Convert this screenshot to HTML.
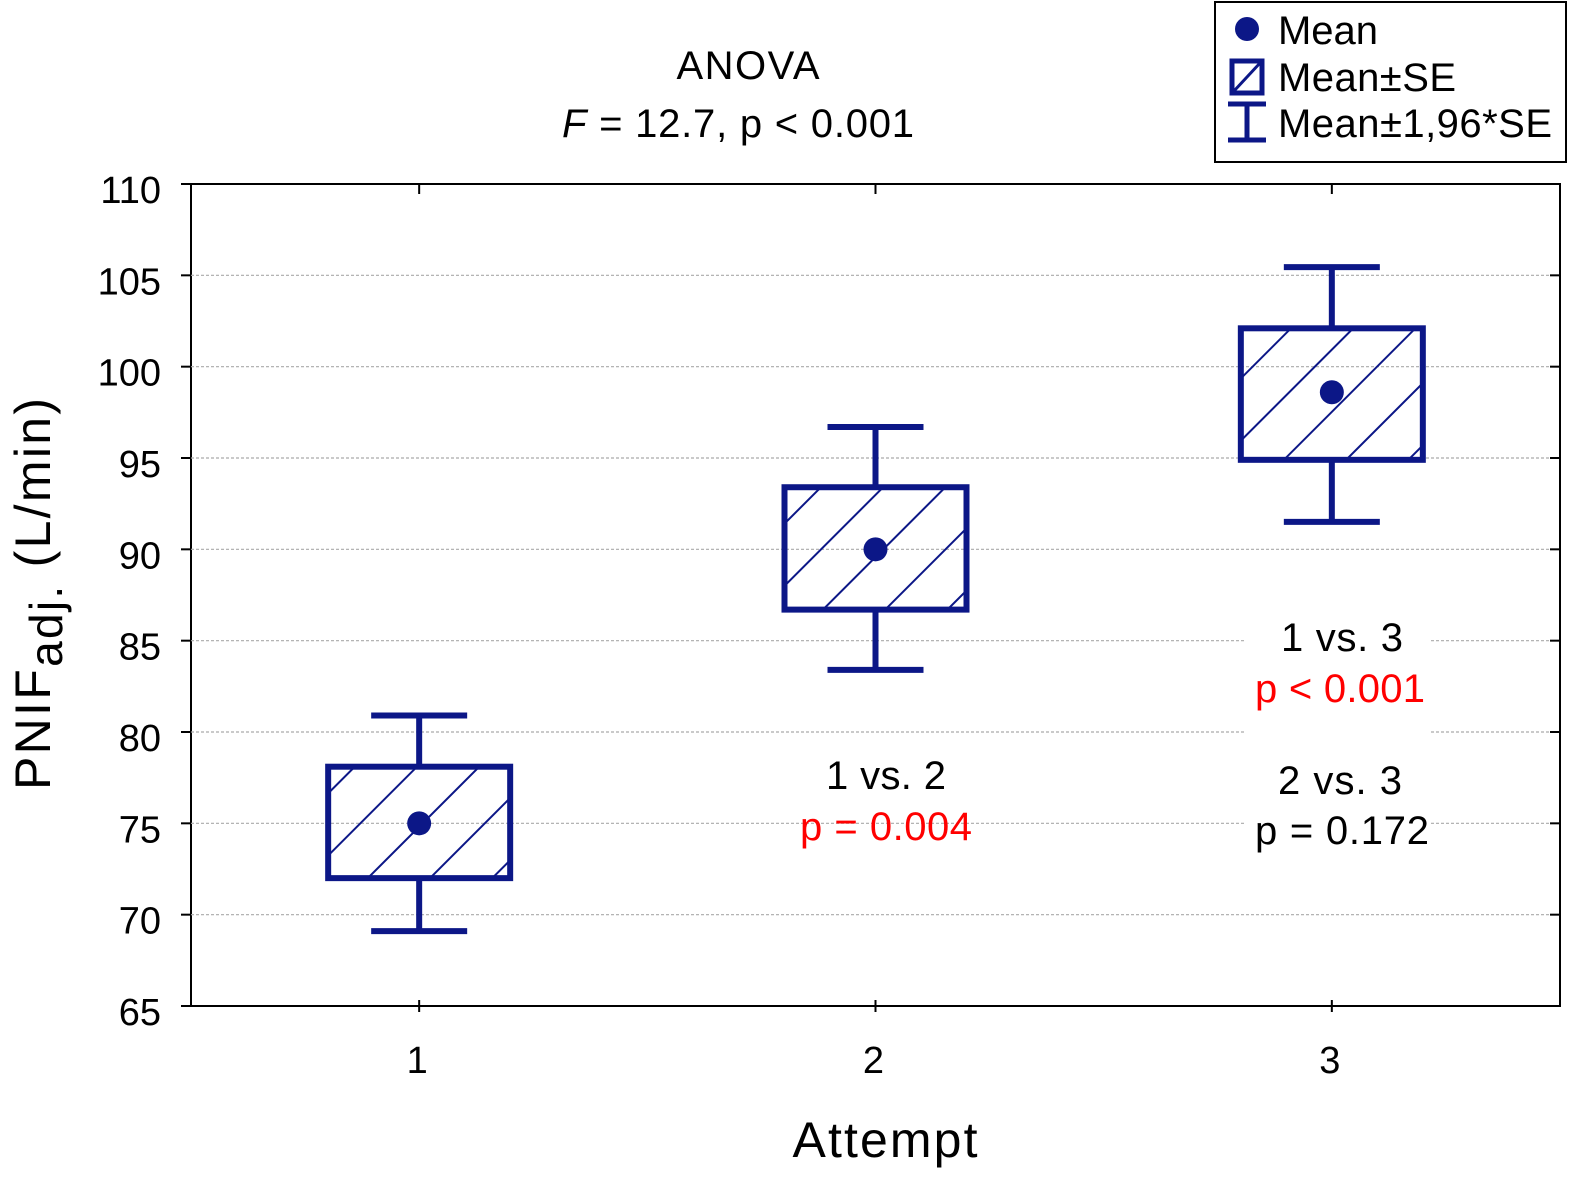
<!DOCTYPE html>
<html><head><meta charset="utf-8"><style>
html,body{margin:0;padding:0;background:#fff;}
svg{display:block;font-family:"Liberation Sans",Arial,sans-serif;}
</style></head><body>
<svg id="chart" width="1570" height="1184" viewBox="0 0 1570 1184">
<defs>
<pattern id="hatch" patternUnits="userSpaceOnUse" width="44" height="44" patternTransform="rotate(45)">
<line x1="0" y1="0" x2="0" y2="44" stroke="#0c1787" stroke-width="4"/>
</pattern>
</defs>
<rect x="191" y="184" width="1369" height="822" fill="#fff" stroke="#000" stroke-width="2"/>
<g id="grid"></g>
<g id="axes"></g>
<g id="marks"></g>
<text x="748" y="79" font-size="40" text-anchor="middle" textLength="143">ANOVA</text>
<text x="738" y="137" font-size="40" text-anchor="middle" textLength="352"><tspan font-style="italic">F</tspan> = 12.7, p &lt; 0.001</text>
<text transform="translate(50,594) rotate(-90)" font-size="50" text-anchor="middle" textLength="392">PNIF<tspan font-size="46" dy="12">adj.</tspan><tspan dy="-12">  (L/min)</tspan></text>
<text x="885" y="1157" font-size="50" text-anchor="middle" textLength="185">Attempt</text>
<text x="886" y="789" font-size="40" text-anchor="middle" textLength="120">1 vs. 2</text>
<text x="886" y="840" font-size="40" text-anchor="middle" fill="#ff0000" textLength="172">p = 0.004</text>
<rect x="1245" y="610" width="186" height="240" fill="#fff"/>
<text x="1342" y="651" font-size="40" text-anchor="middle" textLength="122">1 vs. 3</text>
<text x="1340" y="702" font-size="40" text-anchor="middle" fill="#ff0000" textLength="170">p &lt; 0.001</text>
<text x="1340" y="794" font-size="40" text-anchor="middle" textLength="124">2 vs. 3</text>
<text x="1342" y="844" font-size="40" text-anchor="middle" textLength="174">p = 0.172</text>
<g>
<rect x="1215" y="2" width="351" height="160" fill="#fff" stroke="#000" stroke-width="2"/>
<circle cx="1247" cy="29" r="12" fill="#0c1787"/>
<text x="1278" y="44" font-size="40" textLength="100">Mean</text>
<rect x="1232" y="61" width="30" height="32" fill="#fff" stroke="#0c1787" stroke-width="5"/>
<line x1="1234" y1="91" x2="1260" y2="63" stroke="#0c1787" stroke-width="3"/>
<text x="1278" y="91" font-size="40" textLength="178">Mean±SE</text>
<line x1="1228" y1="104" x2="1266" y2="104" stroke="#0c1787" stroke-width="5"/>
<line x1="1247" y1="104" x2="1247" y2="140" stroke="#0c1787" stroke-width="5"/>
<line x1="1228" y1="140" x2="1266" y2="140" stroke="#0c1787" stroke-width="5"/>
<text x="1278" y="137" font-size="40" textLength="274">Mean±1,96*SE</text>
</g>
</svg>
<script>
const categories = ["1","2","3"];
const means = [75.0, 90.0, 98.6];
const seLow = [72.0, 86.7, 94.9];
const seHigh = [78.1, 93.4, 102.1];
const ciLow = [69.1, 83.4, 91.5];
const ciHigh = [80.9, 96.7, 105.45];
const yTicks = [65,70,75,80,85,90,95,100,105,110];

const NS="http://www.w3.org/2000/svg";
const L=191,R=1560,T=184,B=1006;
const y=v=>B-(v-65)/(110-65)*(B-T);
const x=i=>L+(i+0.5)/categories.length*(R-L);
const C="#0c1787";
function mk(tag,attrs,parent){const e=document.createElementNS(NS,tag);for(const k in attrs)e.setAttribute(k,attrs[k]);parent.appendChild(e);return e;}
const grid=document.getElementById('grid'),axes=document.getElementById('axes'),marks=document.getElementById('marks');
yTicks.forEach(t=>{
  if(t>65&&t<110){const g=mk('line',{x1:L,x2:R,y1:y(t),y2:y(t),stroke:'#aaa','stroke-width':1.2,'stroke-dasharray':'3,2'},grid);
  
  }
  mk('line',{x1:L-10,x2:L,y1:y(t),y2:y(t),stroke:'#000','stroke-width':2},axes);
  mk('line',{x1:R-10,x2:R,y1:y(t),y2:y(t),stroke:'#000','stroke-width':2},axes);
  const tx=mk('text',{x:161,y:y(t)+19,'font-size':38,'text-anchor':'end'},axes);
  tx.textContent=t;
  
  
});
categories.forEach((c,i)=>{
  const cx=x(i);
  mk('line',{x1:cx,x2:cx,y1:T,y2:T+10,stroke:'#000','stroke-width':2},axes);
  mk('line',{x1:cx,x2:cx,y1:B-6,y2:B+6,stroke:'#000','stroke-width':2},axes);
  const tx=mk('text',{x:cx-2,y:1073,'font-size':38,'text-anchor':'middle'},axes);
  tx.textContent=c;
  
  
  const g=mk('g',{},marks);
  
  
  mk('line',{x1:cx,x2:cx,y1:y(ciHigh[i]),y2:y(seHigh[i]),stroke:C,'stroke-width':6},g);
  mk('line',{x1:cx,x2:cx,y1:y(seLow[i]),y2:y(ciLow[i]),stroke:C,'stroke-width':6},g);
  mk('line',{x1:cx-48,x2:cx+48,y1:y(ciHigh[i]),y2:y(ciHigh[i]),stroke:C,'stroke-width':6},g);
  mk('line',{x1:cx-48,x2:cx+48,y1:y(ciLow[i]),y2:y(ciLow[i]),stroke:C,'stroke-width':6},g);
  mk('rect',{x:cx-91,y:y(seHigh[i]),width:182,height:y(seLow[i])-y(seHigh[i]),fill:'url(#hatch)',stroke:C,'stroke-width':6},g);
  const m=mk('circle',{cx:cx,cy:y(means[i]),r:12,fill:C},g);
  
  
});
</script>
</body></html>
